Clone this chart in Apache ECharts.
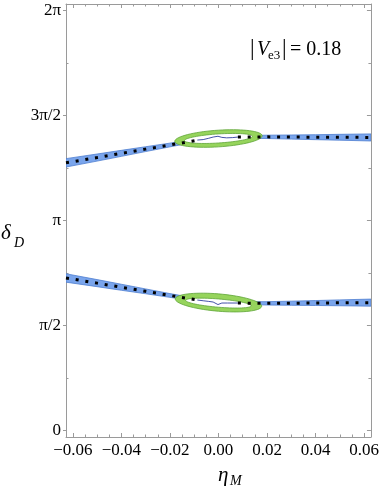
<!DOCTYPE html>
<html>
<head>
<meta charset="utf-8">
<script src="https://cdn.jsdelivr.net/npm/echarts@6/dist/echarts.min.js"></script>
<style>
  html, body { margin: 0; padding: 0; background: #fff; }
  #chart { width: 382px; height: 491px; }
</style>
</head>
<body>
<div id="chart"></div>
<script>
// eta_M sample points
const etaGrid = [-0.0628, -0.05, -0.04, -0.03, -0.02, -0.0086, 0, 0.008, 0.02, 0.03, 0.04, 0.05, 0.0628]

// upper branch: band edges and dotted central curve (null = hidden inside ring)
const upperLo = [3.942, 4.031, 4.102, 4.174, 4.244, 4.322, 4.348, 4.371, 4.369, 4.360, 4.352, 4.344, 4.332]
const upperHi = [4.068, 4.137, 4.192, 4.246, 4.300, 4.366, 4.388, 4.411, 4.419, 4.422, 4.426, 4.432, 4.438]
const upperDots = [4.005, 4.084, 4.147, 4.210, 4.272, 4.344, null, 4.391, 4.394, 4.391, 4.389, 4.388, 4.385]

// lower branch
const lowerLo = [2.218, 2.151, 2.097, 2.045, 1.991, 1.929, 1.901, 1.886, 1.876, 1.872, 1.869, 1.865, 1.859]
const lowerHi = [2.344, 2.257, 2.187, 2.117, 2.047, 1.973, 1.941, 1.926, 1.926, 1.934, 1.943, 1.953, 1.965]
const lowerDots = [2.281, 2.204, 2.142, 2.081, 2.019, 1.951, null, 1.906, 1.901, 1.903, 1.906, 1.909, 1.912]

// thin curves inside the rings
const upperThinEta = [-0.0087, -0.0063, -0.0042, -0.0022, -0.0002, 0.0014, 0.0034, 0.0059, 0.008]
const upperThin = [4.346, 4.353, 4.371, 4.391, 4.403, 4.386, 4.379, 4.383, 4.391]
const lowerThinEta = [-0.0087, -0.0063, -0.0042, -0.0022, -0.0002, 0.0014, 0.0038, 0.008]
const lowerThin = [1.951, 1.940, 1.931, 1.921, 1.883, 1.906, 1.906, 1.906]

// green rings: centre, semi-axes (eta, delta), tilt (d delta / d eta)
const ringEta = [0, 0]
const ringDelta = [4.369, 1.913]
const ringOuterA = [0.018, 0.0178]
const ringOuterB = [0.125, 0.13]
const ringInnerDelta = [4.37, 1.905]
const ringInnerA = [0.014, 0.0135]
const ringInnerB = [0.068, 0.062]
const ringTilt = [2.3, -3.0]

// ticks
const xTickValues = [-0.06, -0.04, -0.02, 0, 0.02, 0.04, 0.06]
const xTickLabels = ['\u22120.06', '\u22120.04', '\u22120.02', '0.00', '0.02', '0.04', '0.06']
const xMinorTicks = [-0.055, -0.05, -0.045, -0.035, -0.03, -0.025, -0.015, -0.01, -0.005,
  0.005, 0.01, 0.015, 0.025, 0.03, 0.035, 0.045, 0.05, 0.055]
const yTickValues = [0, Math.PI / 2, Math.PI, 3 * Math.PI / 2, 2 * Math.PI]
const yTickLabels = ['0', '\u03c0/2', '\u03c0', '3\u03c0/2', '2\u03c0']
const yMinorTicks = [Math.PI / 4, 3 * Math.PI / 4, 5 * Math.PI / 4, 7 * Math.PI / 4]

const xMin = -0.0628
const xMax = 0.0628
const yMin = -0.1
const yMax = 2 * Math.PI + 0.1

const serif = '"Liberation Serif", "DejaVu Serif", serif'
const frameColor = '#9a9a9a'
const bandFill = '#7aa5ec'
const bandEdge = '#4f7fd0'
const ringFill = '#96d45c'
const ringEdge = '#5ea536'

const nearestLabel = (values, labels) => v => {
  let best = 0
  values.forEach((t, i) => { if (Math.abs(t - v) < Math.abs(values[best] - v)) best = i })
  return labels[best]
}

const makeXAxis = (position, ticks, len, showLine, labels) => ({
  type: 'value', position, min: xMin, max: xMax,
  axisLine: { show: showLine, onZero: false, lineStyle: { color: frameColor, width: 1 } },
  splitLine: { show: false },
  axisTick: { show: true, inside: true, length: len, customValues: ticks, lineStyle: { color: frameColor } },
  axisLabel: labels
    ? { show: true, customValues: xTickValues, formatter: nearestLabel(xTickValues, xTickLabels),
        color: '#000', fontFamily: serif, fontSize: 17, margin: 5 }
    : { show: false }
})

const makeYAxis = (position, ticks, len, inside, showLine, labels) => ({
  type: 'value', position, min: yMin, max: yMax,
  axisLine: { show: showLine, onZero: false, lineStyle: { color: frameColor, width: 1 } },
  splitLine: { show: false },
  axisTick: { show: true, inside, length: len, customValues: ticks, lineStyle: { color: frameColor } },
  axisLabel: labels
    ? { show: true, customValues: yTickValues, formatter: nearestLabel(yTickValues, yTickLabels),
        color: '#000', fontFamily: serif, fontSize: 17, margin: 5 }
    : { show: false }
})

const bandSeries = (lo, hi) => ({
  type: 'custom',
  coordinateSystem: 'cartesian2d',
  clip: true,
  z: 1,
  data: [[0, 0]],
  renderItem: (params, api) => {
    const pts = []
    etaGrid.forEach((e, i) => pts.push(api.coord([e, hi[i]])))
    for (let i = etaGrid.length - 1; i >= 0; i--) pts.push(api.coord([etaGrid[i], lo[i]]))
    return {
      type: 'polygon',
      shape: { points: pts },
      style: { fill: bandFill, stroke: bandEdge, lineWidth: 0.8 }
    }
  }
})

const ellipsePts = (api, ce, cd, a, b, k) => {
  const pts = []
  for (let i = 0; i < 72; i++) {
    const t = (i / 72) * Math.PI * 2
    const de = a * Math.cos(t)
    pts.push(api.coord([ce + de, cd + b * Math.sin(t) + k * de]))
  }
  return pts
}

const ringSeries = {
  type: 'custom',
  coordinateSystem: 'cartesian2d',
  z: 2,
  data: ringEta.map((e, i) => [e, ringDelta[i]]),
  renderItem: (params, api) => {
    const i = params.dataIndex
    return {
      type: 'group',
      children: [
        {
          type: 'polygon',
          shape: { points: ellipsePts(api, ringEta[i], ringDelta[i], ringOuterA[i], ringOuterB[i], ringTilt[i]) },
          style: { fill: ringFill, stroke: ringEdge, lineWidth: 0.8 }
        },
        {
          type: 'polygon',
          shape: { points: ellipsePts(api, ringEta[i], ringInnerDelta[i], ringInnerA[i], ringInnerB[i], ringTilt[i]) },
          style: { fill: '#ffffff', stroke: ringEdge, lineWidth: 0.8 }
        }
      ]
    }
  }
}

const thinSeries = (etas, vals) => ({
  type: 'line',
  z: 3,
  showSymbol: false,
  symbol: 'none',
  silent: true,
  data: etas.map((e, i) => [e, vals[i]]),
  lineStyle: { color: '#4452a8', width: 1 }
})

const dotSeries = vals => ({
  type: 'line',
  z: 4,
  symbol: 'none',
  silent: true,
  connectNulls: false,
  data: etaGrid.map((e, i) => [e, vals[i]]),
  lineStyle: { color: '#000', width: 3, type: [3, 6.8], cap: 'butt' }
})

const chart = echarts.init(document.getElementById('chart'), null, { renderer: 'canvas' })

chart.setOption({
  animation: false,
  backgroundColor: '#ffffff',
  grid: { left: 66, right: 8, top: 4, bottom: 54, containLabel: false },
  xAxis: [
    makeXAxis('bottom', xTickValues, 4, true, true),
    makeXAxis('bottom', xMinorTicks, 2.5, false, false),
    makeXAxis('top', xTickValues, 4, true, false),
    makeXAxis('top', xMinorTicks, 2.5, false, false)
  ],
  yAxis: [
    makeYAxis('left', yTickValues, 3, false, true, true),
    makeYAxis('left', yMinorTicks, 2.5, true, false, false),
    makeYAxis('right', yTickValues, 4, true, true, false),
    makeYAxis('right', yMinorTicks, 2.5, true, false, false)
  ],
  series: [
    bandSeries(upperLo, upperHi),
    bandSeries(lowerLo, lowerHi),
    ringSeries,
    thinSeries(upperThinEta, upperThin),
    thinSeries(lowerThinEta, lowerThin),
    dotSeries(upperDots),
    dotSeries(lowerDots)
  ],
  graphic: [
    // y axis name
    { type: 'text', left: 1, top: 223, style: { text: '\u03b4', font: 'italic 21px ' + serif, fill: '#000' } },
    { type: 'text', left: 14, top: 236, style: { text: 'D', font: 'italic 14px ' + serif, fill: '#000' } },
    // x axis name
    { type: 'text', left: 218, top: 465, style: { text: '\u03b7', font: 'italic 21px ' + serif, fill: '#000' } },
    { type: 'text', left: 230, top: 474, style: { text: 'M', font: 'italic 14px ' + serif, fill: '#000' } },
    // |V_e3| = 0.18
    { type: 'text', left: 250, top: 37, style: { text: '|', font: '23px ' + serif, fill: '#000' } },
    { type: 'text', left: 257, top: 40, style: { text: 'V', font: 'italic 20px ' + serif, fill: '#000' } },
    { type: 'text', left: 268, top: 49, style: { text: 'e3', font: '13px ' + serif, fill: '#000' } },
    { type: 'text', left: 282, top: 37, style: { text: '|', font: '23px ' + serif, fill: '#000' } },
    { type: 'text', left: 290, top: 40, style: { text: '= 0.18', font: '20px ' + serif, fill: '#000' } }
  ]
})
</script>
</body>
</html>
